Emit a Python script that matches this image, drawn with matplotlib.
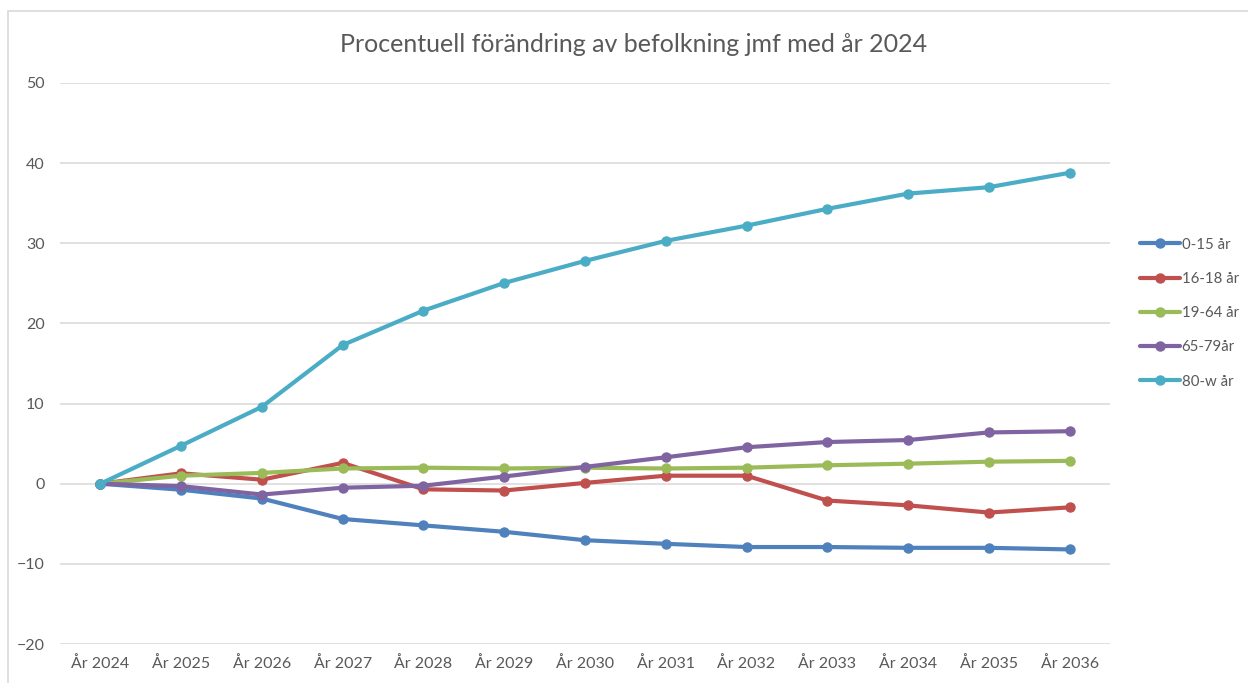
import matplotlib
matplotlib.use('Agg')
import matplotlib.pyplot as plt
from matplotlib.patches import Rectangle

plt.rcParams['font.family'] = ['Lato', 'DejaVu Sans']

years = ['År 2024', 'År 2025', 'År 2026', 'År 2027', 'År 2028', 'År 2029', 'År 2030',
         'År 2031', 'År 2032', 'År 2033', 'År 2034', 'År 2035', 'År 2036']

age_0_15 = [0, -0.75, -1.85, -4.4, -5.2, -6.0, -7.05, -7.5, -7.9, -7.9, -8.0, -8.0, -8.2]
age_16_18 = [0, 1.3, 0.5, 2.6, -0.7, -0.85, 0.1, 1.0, 1.0, -2.1, -2.7, -3.6, -2.95]
age_19_64 = [0, 1.0, 1.35, 1.9, 2.0, 1.9, 2.0, 1.9, 2.0, 2.3, 2.5, 2.75, 2.85]
age_65_79 = [0, -0.3, -1.35, -0.5, -0.25, 0.9, 2.1, 3.3, 4.55, 5.2, 5.45, 6.4, 6.55]
age_80 = [0, 4.75, 9.6, 17.3, 21.6, 25.05, 27.8, 30.3, 32.2, 34.3, 36.2, 37.0, 38.8]

series = [
    ('0-15 år', age_0_15, '#4F81BD'),
    ('16-18 år', age_16_18, '#C0504D'),
    ('19-64 år', age_19_64, '#9BBB59'),
    ('65-79år', age_65_79, '#8064A2'),
    ('80-w år', age_80, '#4BACC6'),
]

text_col = '#595959'

fig = plt.figure(figsize=(12.48, 6.83), dpi=100)
ax = fig.add_axes([60 / 1248, 1 - 644 / 683, 1050 / 1248, 561 / 683])

x = list(range(len(years)))
for name, vals, col in series:
    ax.plot(x, vals, color=col, lw=3.0, marker='o', markersize=6.5,
            label=name, solid_capstyle='round', zorder=3)

ax.set_xlim(-0.5, len(years) - 0.5)
ax.set_ylim(-20, 50)
ax.set_yticks(range(-20, 51, 10))
ax.set_xticks(x)
ax.set_xticklabels(years)
ax.grid(axis='y', color='#d9d9d9', lw=1.1)
ax.set_axisbelow(True)
for s in ax.spines.values():
    s.set_visible(False)
ax.tick_params(axis='both', length=0, labelsize=11.5, colors=text_col)
ax.tick_params(axis='y', pad=11)
ax.tick_params(axis='x', pad=9)

fig.text(634 / 1248, 1 - 44 / 683, 'Procentuell förändring av befolkning jmf med år 2024',
         ha='center', va='center', fontsize=18, color=text_col)

leg = ax.legend(loc='center left', bbox_to_anchor=(1.019, 0.59), frameon=False,
                fontsize=10.8, labelspacing=1.35, handlelength=2.65, handletextpad=0.1,
                borderaxespad=0.3)
for t in leg.get_texts():
    t.set_color(text_col)

# outer chart border
fig.patches.append(Rectangle((7.5 / 1248, -0.1), 1.2, 1 - 11 / 683 + 0.1,
                             transform=fig.transFigure, fill=False,
                             edgecolor='#d9d9d9', lw=1.2))

fig.savefig('out.png', dpi=100)
